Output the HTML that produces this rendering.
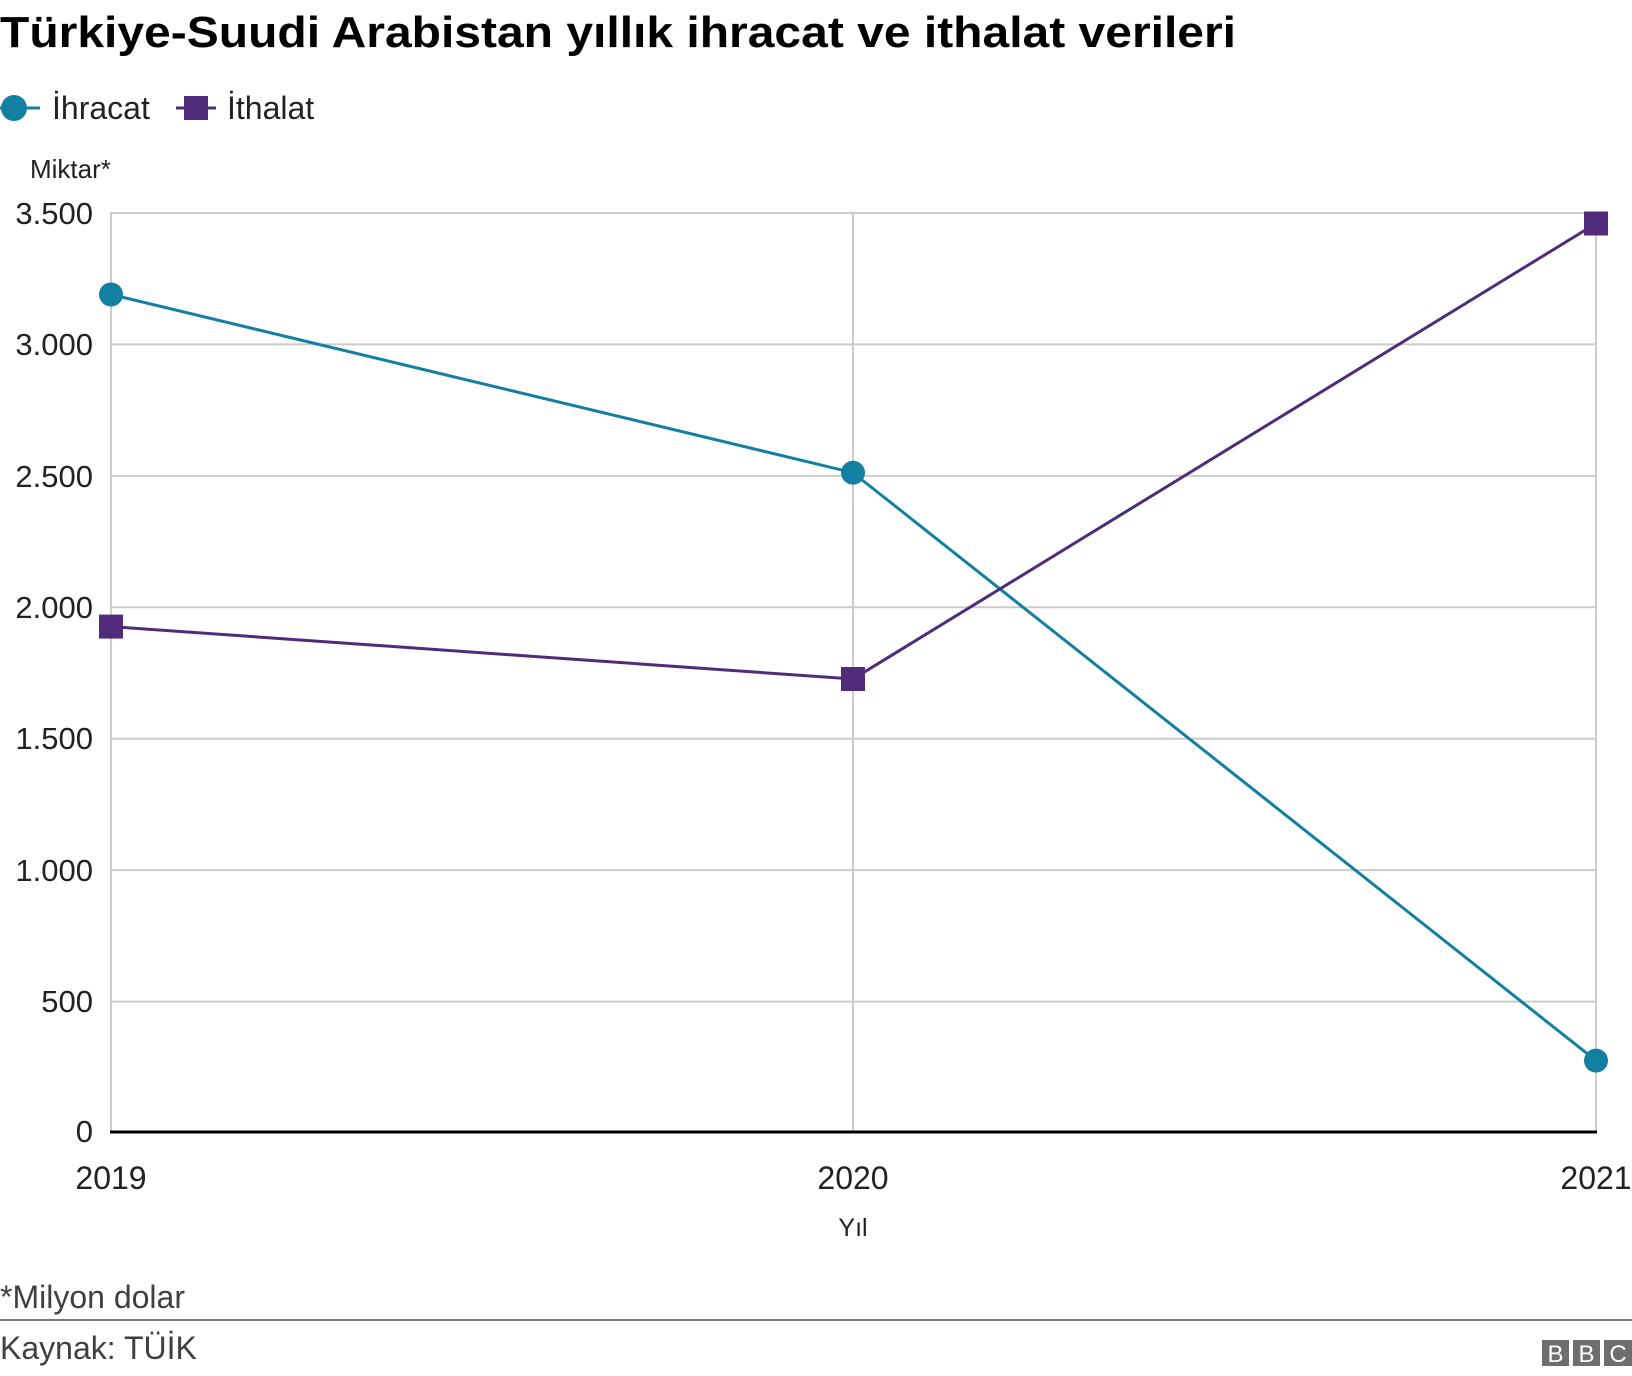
<!DOCTYPE html>
<html><head><meta charset="utf-8"><style>
html,body{margin:0;padding:0;background:#fff;}
svg{display:block;font-family:"Liberation Sans",Arial,sans-serif;}
</style></head><body>
<svg width="1632" height="1376" viewBox="0 0 1632 1376" xmlns="http://www.w3.org/2000/svg">
<text x="0" y="47" font-size="44" font-weight="bold" fill="#000" textLength="1236" lengthAdjust="spacingAndGlyphs">Türkiye-Suudi Arabistan yıllık ihracat ve ithalat verileri</text>
<line x1="0" y1="108" x2="40" y2="108" stroke="#1380A1" stroke-width="3"/>
<circle cx="14" cy="108" r="13" fill="#1380A1"/>
<text x="52" y="119" font-size="32" fill="#222">İhracat</text>
<line x1="176" y1="108" x2="216" y2="108" stroke="#4F2B7A" stroke-width="3"/>
<rect x="184" y="96" width="24" height="24" fill="#4F2B7A"/>
<text x="227" y="119" font-size="32" fill="#222">İthalat</text>
<text x="30" y="178" font-size="26" fill="#222">Miktar*</text>
<g stroke="#cccccc" stroke-width="2">
<line x1="110" y1="213" x2="1597" y2="213"/>
<line x1="110" y1="344.4" x2="1597" y2="344.4"/>
<line x1="110" y1="475.9" x2="1597" y2="475.9"/>
<line x1="110" y1="607.3" x2="1597" y2="607.3"/>
<line x1="110" y1="738.7" x2="1597" y2="738.7"/>
<line x1="110" y1="870.1" x2="1597" y2="870.1"/>
<line x1="110" y1="1001.6" x2="1597" y2="1001.6"/>
<line x1="111" y1="213" x2="111" y2="1132"/>
<line x1="853" y1="213" x2="853" y2="1132"/>
<line x1="1596" y1="213" x2="1596" y2="1132"/>
</g>
<g font-size="31" fill="#222" text-anchor="end">
<text x="93" y="224">3.500</text>
<text x="93" y="355">3.000</text>
<text x="93" y="487">2.500</text>
<text x="93" y="618">2.000</text>
<text x="93" y="749">1.500</text>
<text x="93" y="881">1.000</text>
<text x="93" y="1012">500</text>
<text x="93" y="1142">0</text>
</g>
<line x1="110" y1="1132" x2="1597" y2="1132" stroke="#000" stroke-width="3"/>
<g font-size="32" fill="#222" text-anchor="middle">
<text x="111" y="1189">2019</text>
<text x="853" y="1189">2020</text>
<text x="1596" y="1189">2021</text>
</g>
<text x="853" y="1236" font-size="25" fill="#222" text-anchor="middle">Yıl</text>
<polyline points="111,294.5 853,472.7 1596,1060.6" fill="none" stroke="#1380A1" stroke-width="3"/>
<polyline points="111,626.6 853,679 1596,223.5" fill="none" stroke="#4F2B7A" stroke-width="3"/>
<circle cx="111" cy="294.5" r="12" fill="#1380A1"/>
<circle cx="853" cy="472.7" r="12" fill="#1380A1"/>
<circle cx="1596" cy="1060.6" r="12" fill="#1380A1"/>
<rect x="99" y="614.6" width="24" height="24" fill="#4F2B7A"/>
<rect x="841" y="667" width="24" height="24" fill="#4F2B7A"/>
<rect x="1584" y="211.5" width="24" height="24" fill="#4F2B7A"/>
<text x="0" y="1308" font-size="32" fill="#404040">*Milyon dolar</text>
<line x1="0" y1="1320" x2="1632" y2="1320" stroke="#777" stroke-width="2"/>
<text x="0" y="1359" font-size="32" fill="#404040">Kaynak: TÜİK</text>
<g>
<rect x="1542" y="1340" width="27" height="26" fill="#6e6e6e"/>
<rect x="1573" y="1340" width="27" height="26" fill="#6e6e6e"/>
<rect x="1604" y="1340" width="28" height="26" fill="#6e6e6e"/>
<g font-size="24" fill="#fff" text-anchor="middle">
<text x="1555.5" y="1362">B</text>
<text x="1586.5" y="1362">B</text>
<text x="1618" y="1362">C</text>
</g>
</g>
</svg>
</body></html>
